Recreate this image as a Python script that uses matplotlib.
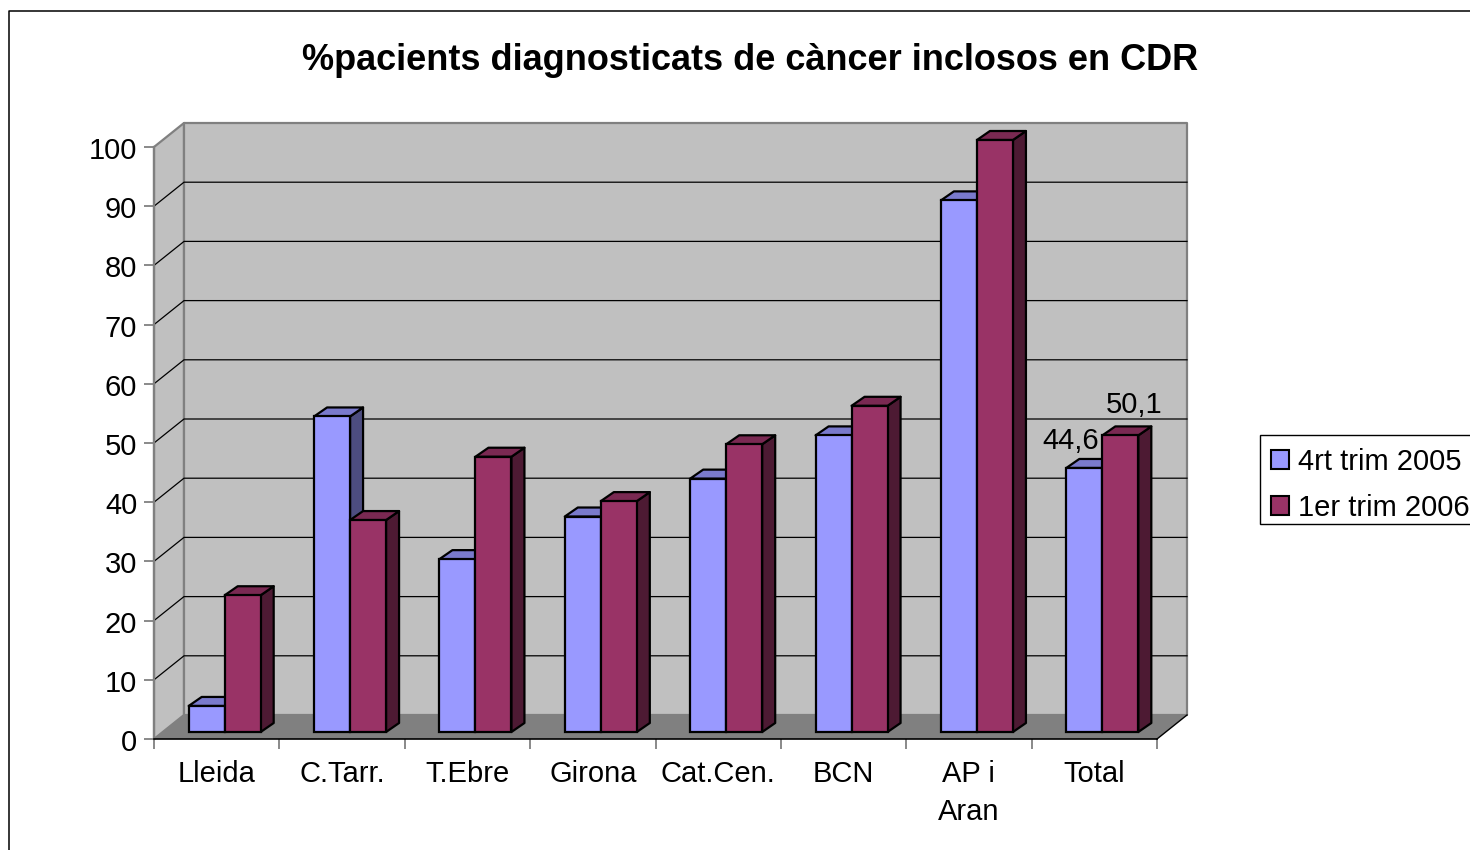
import matplotlib
matplotlib.use('Agg')
from matplotlib import pyplot as plt
from matplotlib.lines import Line2D
from matplotlib.patches import Patch, Rectangle
from matplotlib.transforms import ScaledTranslation

# dades
categories = ['Lleida', 'C.Tarr.', 'T.Ebre', 'Girona', 'Cat.Cen.', 'BCN', 'AP i\nAran', 'Total']
trim_2005 = [4.4, 53.3, 29.2, 36.4, 42.8, 50.1, 89.8, 44.6]
trim_2006 = [23.1, 35.8, 46.5, 39.0, 48.6, 55.1, 100, 50.1]
y_ticks = [0, 10, 20, 30, 40, 50, 60, 70, 80, 90, 100]
series_names = ['4rt trim 2005', '1er trim 2006']

plt.rcParams['font.family'] = ['Liberation Sans', 'DejaVu Sans']

W, H = 1470, 850
fig = plt.figure(figsize=(W / 100, H / 100), dpi=100)

# eixos col.locats en pixels de la imatge
left, right, top, bottom = 154, 1157, 147, 739
ax = fig.add_axes([left / W, 1 - bottom / H, (right - left) / W, (bottom - top) / H])
ax.set_xlim(0, 8)
ax.set_ylim(0, 100)
ax.patch.set_visible(False)

px_x = 8 / (right - left)
px_y = 100 / (bottom - top)
dx, dy = 30 * px_x, 24 * px_y          # fons de la caixa 3D
bar_dx, bar_dy = 13 * px_x, 9 * px_y   # fons de cada barra
bar_w = 36 * px_x
front = 7 * px_y
shift = 8 * px_x

GRAY = '#808080'
WALL = '#C0C0C0'
FS = 21

# parets i terra
ax.fill([0, dx, dx, 0], [0, dy, 100 + dy, 100], fc=WALL, ec=GRAY, lw=1.6,
        joinstyle='round', clip_on=False, zorder=1)
ax.fill([dx, 8 + dx, 8 + dx, dx], [dy, dy, 100 + dy, 100 + dy], fc=WALL, ec=GRAY, lw=1.6,
        joinstyle='round', clip_on=False, zorder=1)
ax.fill([0, dx, 8 + dx, 8], [0, dy, dy, 0], fc=GRAY, ec='none', clip_on=False, zorder=1.5)
for t in y_ticks[1:-1]:
    ax.plot([0, dx, 8 + dx], [t, t + dy, t + dy], color='black', lw=0.9, clip_on=False, zorder=1.2)
ax.plot([8, 8 + dx], [0, dy], color='black', lw=1.0, clip_on=False, zorder=1.6)


def draw_bar(x, val, face, side, roof, z):
    y0, y1 = front, front + val
    ax.fill([x + bar_w, x + bar_w + bar_dx, x + bar_w + bar_dx, x + bar_w],
            [y0, y0 + bar_dy, y1 + bar_dy, y1], fc=side, ec='black', lw=1.6,
            joinstyle='round', clip_on=False, zorder=z)
    ax.fill([x, x + bar_dx, x + bar_w + bar_dx, x + bar_w],
            [y1, y1 + bar_dy, y1 + bar_dy, y1], fc=roof, ec='black', lw=1.6,
            joinstyle='round', clip_on=False, zorder=z)
    ax.bar(x, val, width=bar_w, bottom=y0, align='edge', color=face, edgecolor='black',
           linewidth=1.6, clip_on=False, zorder=z + 0.1)


for i in range(len(categories)):
    c = i + 0.5 + shift
    draw_bar(c - bar_w, trim_2005[i], '#9999FF', '#4D4D80', '#7A7ACC', 2 + i)
    draw_bar(c, trim_2006[i], '#993366', '#4D1A33', '#7A2952', 2.5 + i)

# etiquetes de dades del Total
ax.annotate('44,6', (7.5 + shift, front + trim_2005[7]), xytext=(-3, 13),
            textcoords='offset pixels', ha='right', va='bottom', fontsize=FS, zorder=20)
ax.annotate('50,1', (7.5 + shift + bar_w, front + trim_2006[7]), xytext=(-4, 16),
            textcoords='offset pixels', ha='center', va='bottom', fontsize=FS, zorder=20, annotation_clip=False)

# eixos
for s in ['top', 'right']:
    ax.spines[s].set_visible(False)
ax.spines['left'].set_color(GRAY)
ax.spines['left'].set_linewidth(1.6)
ax.spines['left'].set_zorder(1.7)
ax.spines['bottom'].set_color('black')
ax.spines['bottom'].set_linewidth(1.2)
ax.spines['bottom'].set_zorder(1.7)

ax.set_yticks(y_ticks)
ax.tick_params(axis='y', length=7, width=1.3, color=GRAY, pad=5, labelsize=FS)
for lab in ax.get_yticklabels():
    lab.set_transform(lab.get_transform() + ScaledTranslation(0, -1 / 100, fig.dpi_scale_trans))
ax.set_xticks(range(len(categories) + 1))
ax.set_xticklabels([])
ax.tick_params(axis='x', which='major', length=7, width=1.3, color=GRAY)
ax.set_xticks([i + 0.5 for i in range(len(categories))], minor=True)
ax.set_xticklabels(categories, minor=True, fontsize=FS, linespacing=1.45)
ax.tick_params(axis='x', which='minor', length=0, pad=15)

fig.text(750 / W, 1 - 60 / H, '%pacients diagnosticats de càncer inclosos en CDR',
         ha='center', va='center', fontsize=26, fontweight='bold')

# marc del grafic, surt per la dreta i per baix
fig.add_artist(Line2D([9 / W, 9 / W, 1], [0, 1 - 11 / H, 1 - 11 / H], color='black', lw=1.1))

# llegenda: el marc tambe surt per la dreta
fig.add_artist(Rectangle((1260 / W, 1 - 524 / H), 240 / W, 89 / H, transform=fig.transFigure,
                         fc='white', ec='black', lw=1.0))
handles = [Patch(fc='#9999FF', ec='black', lw=1.5), Patch(fc='#993366', ec='black', lw=1.5)]
fig.legend(handles, series_names, loc='upper left', bbox_to_anchor=(1262 / W, 1 - 439 / H),
           borderaxespad=0, fontsize=FS, frameon=False, handlelength=0.62, handleheight=0.62,
           handletextpad=0.32, labelspacing=0.62, borderpad=0.3)

plt.savefig('out.png', dpi=100)
